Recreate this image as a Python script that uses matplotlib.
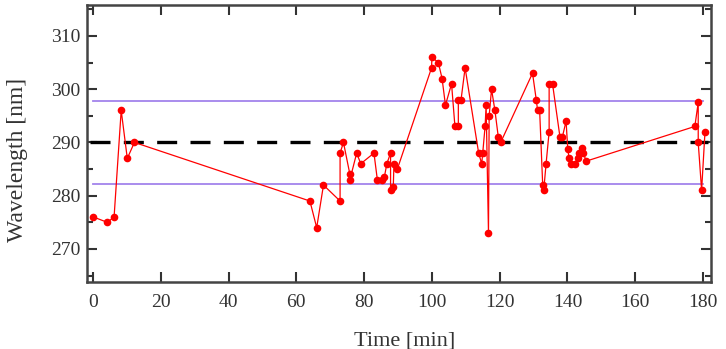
import matplotlib
matplotlib.use("Agg")
import matplotlib.pyplot as plt
from matplotlib.ticker import MultipleLocator

time_min = [0.1, 4.2, 6.2, 8.3, 10.1, 12.2,
            64.0, 66.0, 68.0, 72.9, 72.9, 73.9, 75.8, 75.8, 77.8, 79.0,
            82.9, 83.9, 85.2, 86.0, 86.7, 87.8, 87.8, 88.6, 88.8, 89.8,
            99.9, 100.0, 101.9, 103.0, 104.0, 105.8, 106.8, 107.8, 107.8, 108.6,
            109.8, 113.8, 114.7, 115.0, 115.7, 116.0, 116.7, 116.9, 117.6, 118.6,
            119.6, 120.3,
            129.7, 130.8, 131.2, 131.8, 132.7, 133.0, 133.7, 134.6, 134.6, 135.6,
            137.8, 138.5, 139.6, 140.1, 140.5, 141.2, 142.2, 143.0, 143.5, 144.2,
            144.6, 145.6,
            177.6, 178.6, 178.6, 179.6, 180.6]
wavelength_nm = [276, 275, 276, 296, 287, 290,
                 279, 274, 282, 279, 288, 290, 284, 283, 288, 286,
                 288, 283, 283, 283.6, 286, 288, 281, 281.6, 286, 285,
                 304, 306, 305, 302, 297, 301, 293, 293, 298, 298,
                 304, 288, 286, 288, 293, 297, 273, 295, 300, 296,
                 291, 290,
                 303, 298, 296, 296, 282, 281, 286, 292, 301, 301,
                 291, 291, 294, 288.7, 287, 286, 286, 287, 288, 289,
                 288, 286.5,
                 293, 297.5, 290, 281, 292]

mean_nm = 290.0
upper_nm = 297.8
lower_nm = 282.2
x_ticks = [0, 20, 40, 60, 80, 100, 120, 140, 160, 180]
y_ticks = [270, 280, 290, 300, 310]

plt.rcParams['font.family'] = ['Liberation Serif', 'DejaVu Serif']

fig = plt.figure(figsize=(7.26, 3.49), dpi=100)
ax = fig.add_axes([0.1198, 0.192, 0.979 - 0.1198, 0.9857 - 0.192])

ax.plot([0, 180], [upper_nm, upper_nm], color='#a283ec', lw=1.3, zorder=1)
ax.plot([0, 180], [lower_nm, lower_nm], color='#a283ec', lw=1.3, zorder=1)
ax.plot([-1, 181.5], [mean_nm, mean_nm], color='black', lw=2.4,
        dashes=(6, 4), zorder=2)
ax.plot(time_min, wavelength_nm, color='#ff0000', lw=0.9, marker='o',
        markersize=5.5, markeredgewidth=0, zorder=3)

ax.set_xlim(-1.8, 182.3)
ax.set_ylim(263.8, 315.8)
ax.set_xticks(x_ticks)
ax.set_yticks(y_ticks)
ax.yaxis.set_minor_locator(MultipleLocator(5))
ax.tick_params(axis='both', which='both', direction='in', top=True, right=True,
               colors='#333333', labelcolor='#333333', labelsize=14)
ax.tick_params(which='major', length=7, width=1.5)
ax.tick_params(which='minor', length=4, width=1.5)
ax.tick_params(axis='x', pad=9)
ax.tick_params(axis='y', pad=5)
for s in ax.spines.values():
    s.set_linewidth(1.8)
    s.set_color('#444444')

ax.set_xlabel('Time [min]', fontsize=16, color='#333333')
ax.set_ylabel('Wavelength [nm]', fontsize=17, color='#333333')
ax.xaxis.set_label_coords(0.51, -0.177)
ax.yaxis.set_label_coords(-0.095, 0.44)

fig.savefig('out.png', dpi=100)
